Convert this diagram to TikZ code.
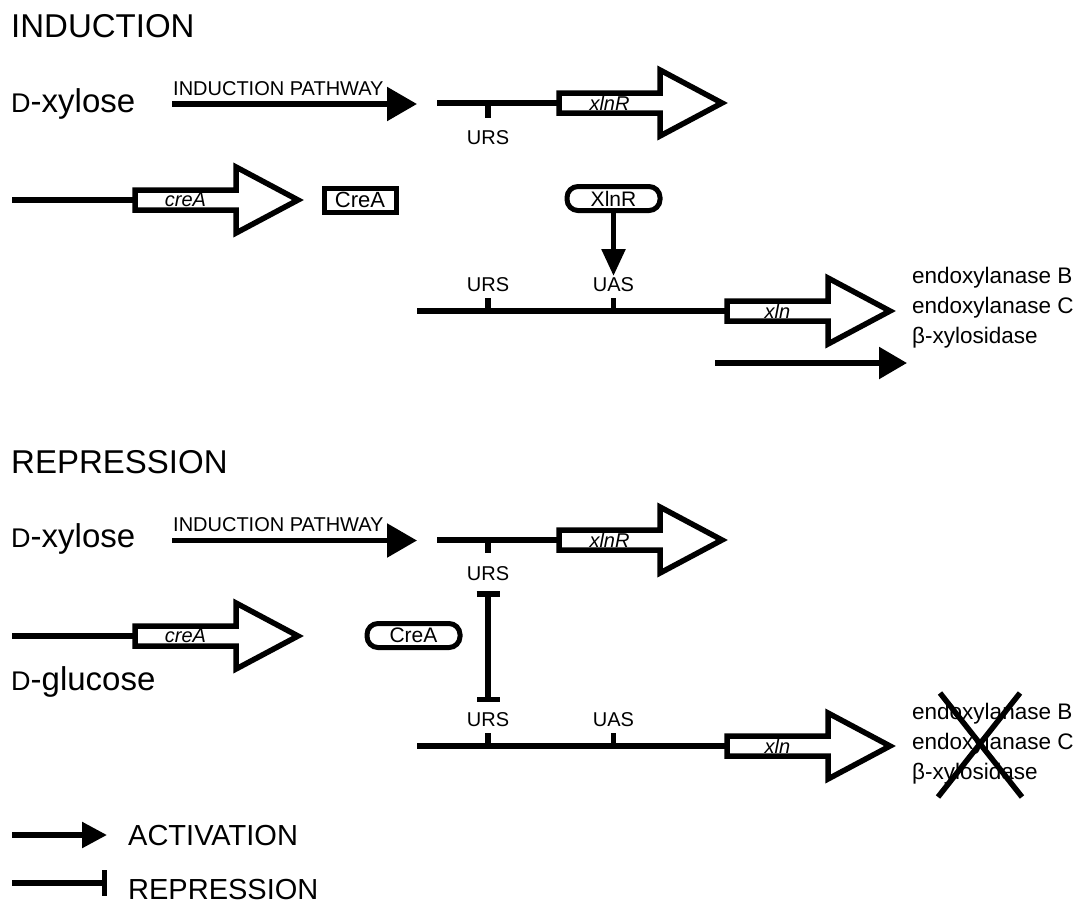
\documentclass[tikz,border=0pt]{standalone}
\usepackage{fontspec}
\setmainfont{Liberation Sans}
\usetikzlibrary{arrows.meta,calc,positioning}

\tikzset{
  dna/.style={line width=5.5pt},
  genebox/.style={draw, line width=5.5pt},
  gene/.style={font=\fontsize{20}{20}\selectfont\itshape, minimum width=101pt,
    minimum height=20pt, inner sep=0pt, outer sep=0pt},
  site/.style={font=\fontsize{20}{20}\selectfont, inner sep=0pt},
  act/.style={line width=5.5pt, -{Triangle[length=30pt,width=33pt]}},
  rep/.style={line width=5.5pt, {Bar[width=23pt]}-{Bar[width=23pt]}},
  prot/.style={draw, line width=5pt, rounded corners=11pt, minimum width=93pt,
    minimum height=24pt, inner sep=0pt, font=\fontsize{21}{21}\selectfont},
  title/.style={font=\fontsize{33}{33}\selectfont, anchor=base west, inner sep=0pt},
  sugar/.style={font=\fontsize{33}{33}\selectfont, anchor=base west, inner sep=0pt},
  enz/.style={font=\fontsize{22.5}{22.5}\selectfont, anchor=base west, inner sep=0pt},
  legend/.style={font=\fontsize{29}{29}\selectfont, anchor=base west, inner sep=0pt}
}
\newcommand{\scD}{{\fontsize{27}{27}\selectfont D}}

\begin{document}
\begin{tikzpicture}[x=1pt,y=-1pt]
    \path[use as bounding box, fill=white] (0,0) rectangle (1074,903);

    % induction
    \node[title] (indT) at (11,37) {INDUCTION};
    \node[sugar] (xylA) at (11,112) {\scD-xylose};
    \coordinate (pathA0) at (172,104);
    \coordinate (pathA1) at (417,104);
    \draw[act] (pathA0) -- (pathA1);
    \node[site, anchor=base west] (pathAlbl) at (173,95) {INDUCTION PATHWAY};

    \node[gene] (xlnRA) at (609.5,103) {xlnR};
    \coordinate (dnaA) at (437,103);
    \draw[dna] (dnaA) -- (xlnRA.west);
    \draw[genebox] (xlnRA.south west) -- (xlnRA.north west) -- (xlnRA.north east) -- ++(0,-23)
      -- ($(xlnRA.east)+(62,0)$) -- ($(xlnRA.south east)+(0,23)$) -- (xlnRA.south east) -- cycle;
    \coordinate (ursA) at (488,103);
    \draw[dna] (ursA) -- ++(0,15);
    \node[site] (ursAlbl) at (488,138) {URS};

    \node[gene] (creAA) at (185.5,200) {creA};
    \coordinate (dnaB) at (12,200);
    \draw[dna] (dnaB) -- (creAA.west);
    \draw[genebox] (creAA.south west) -- (creAA.north west) -- (creAA.north east) -- ++(0,-23)
      -- ($(creAA.east)+(62,0)$) -- ($(creAA.south east)+(0,23)$) -- (creAA.south east) -- cycle;
    \node[draw, line width=5pt, minimum width=72pt, minimum height=24pt, inner sep=0pt,
      font=\fontsize{22}{22}\selectfont] (creAbox) at (360,200) {CreA};

    \node[prot] (xlnRprot) at (613.5,198.5) {XlnR};
    \coordinate (bindA) at (613.5,276);
    \draw[line width=5.5pt, -{Triangle[length=27pt,width=23pt]}] (xlnRprot.south) -- (bindA);

    \node[gene] (xlnA) at (777.5,311) {xln};
    \coordinate (dnaC) at (417,311);
    \draw[dna] (dnaC) -- (xlnA.west);
    \draw[genebox] (xlnA.south west) -- (xlnA.north west) -- (xlnA.north east) -- ++(0,-23)
      -- ($(xlnA.east)+(62,0)$) -- ($(xlnA.south east)+(0,23)$) -- (xlnA.south east) -- cycle;
    \coordinate (ursB) at (488,311);
    \coordinate (uasB) at (613.5,311);
    \draw[dna] (ursB) -- ++(0,-13);
    \draw[dna] (uasB) -- ++(0,-13);
    \node[site] (ursBlbl) at (488,285) {URS};
    \node[site] (uasBlbl) at (613.5,284.5) {UAS};

    \node[enz] (enzBA) at (912,283) {endoxylanase B};
    \node[enz] (enzCA) at (912,313) {endoxylanase C};
    \node[enz] (bxylA) at (912,343) {β-xylosidase};
    \coordinate (exprA0) at (715,363);
    \coordinate (exprA1) at (907,363);
    \draw[line width=5.5pt, -{Triangle[length=28pt,width=31pt]}] (exprA0) -- (exprA1);

    % repression
    \node[title] (repT) at (11,473.5) {REPRESSION};
    \node[sugar] (xylB) at (11,547) {\scD-xylose};
    \coordinate (pathB0) at (172,540.5);
    \coordinate (pathB1) at (417,540.5);
    \draw[act] (pathB0) -- (pathB1);
    \node[site, anchor=base west] (pathBlbl) at (173,531) {INDUCTION PATHWAY};

    \node[gene] (xlnRB) at (609.5,540) {xlnR};
    \coordinate (dnaD) at (437,540);
    \draw[dna] (dnaD) -- (xlnRB.west);
    \draw[genebox] (xlnRB.south west) -- (xlnRB.north west) -- (xlnRB.north east) -- ++(0,-23)
      -- ($(xlnRB.east)+(62,0)$) -- ($(xlnRB.south east)+(0,23)$) -- (xlnRB.south east) -- cycle;
    \coordinate (ursC) at (488,540);
    \draw[dna] (ursC) -- ++(0,13);
    \node[site] (ursClbl) at (488,574) {URS};

    \node[gene] (creAB) at (185.5,636) {creA};
    \coordinate (dnaE) at (12,636);
    \draw[dna] (dnaE) -- (creAB.west);
    \draw[genebox] (creAB.south west) -- (creAB.north west) -- (creAB.north east) -- ++(0,-23)
      -- ($(creAB.east)+(62,0)$) -- ($(creAB.south east)+(0,23)$) -- (creAB.south east) -- cycle;
    \node[sugar] (glcB) at (11,690) {\scD-glucose};
    \node[prot] (creAprot) at (413.5,635.5) {CreA};

    \coordinate (repB0) at (488,591);
    \coordinate (repB1) at (488,702);
    \draw[rep] (repB0) -- (repB1);

    \node[gene] (xlnB) at (777.5,746) {xln};
    \coordinate (dnaF) at (417,746);
    \draw[dna] (dnaF) -- (xlnB.west);
    \draw[genebox] (xlnB.south west) -- (xlnB.north west) -- (xlnB.north east) -- ++(0,-23)
      -- ($(xlnB.east)+(62,0)$) -- ($(xlnB.south east)+(0,23)$) -- (xlnB.south east) -- cycle;
    \coordinate (ursD) at (488,746);
    \coordinate (uasD) at (613.5,746);
    \draw[dna] (ursD) -- ++(0,-13);
    \draw[dna] (uasD) -- ++(0,-13);
    \node[site] (ursDlbl) at (488,720) {URS};
    \node[site] (uasDlbl) at (613.5,720) {UAS};

    \node[enz] (enzBB) at (912,719) {endoxylanase B};
    \node[enz] (enzCB) at (912,749) {endoxylanase C};
    \node[enz] (bxylB) at (912,779) {β-xylosidase};
    \coordinate (crossA) at (940,693);
    \coordinate (crossB) at (1022,797);
    \coordinate (crossC) at (1020,693);
    \coordinate (crossD) at (938,797);
    \draw[dna] (crossA) -- (crossB);
    \draw[dna] (crossC) -- (crossD);

    % legend
    \coordinate (legA0) at (12,835);
    \coordinate (legA1) at (107,835);
    \draw[line width=5.5pt, -{Triangle[length=25pt,width=25pt]}] (legA0) -- (legA1);
    \node[legend] (legAlbl) at (128,845) {ACTIVATION};
    \coordinate (legB0) at (12,883);
    \coordinate (legB1) at (107,883);
    \draw[line width=5.5pt, -{Bar[width=26pt]}] (legB0) -- (legB1);
    \node[legend] (legBlbl) at (128,899) {REPRESSION};
\end{tikzpicture}
\end{document}
